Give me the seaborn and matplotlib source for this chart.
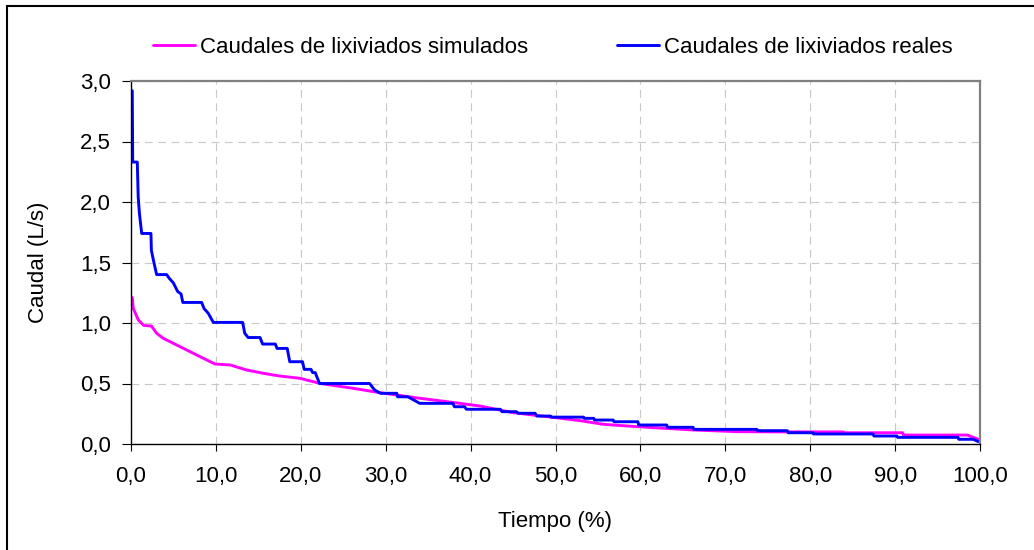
import matplotlib
matplotlib.use("Agg")
import matplotlib.pyplot as plt
from matplotlib.patches import Rectangle
from matplotlib.ticker import FuncFormatter
import seaborn as sns
import pandas as pd

# Curva de duración de caudales de lixiviados (tiempo de excedencia en %)
tiempo_sim = [0.15, 0.27, 0.86, 1.5, 2.4, 3.02, 3.81, 4.99, 6.56, 8.13, 9.9,
              11.7, 13.6, 15.6, 17.5, 19.9, 22.3, 26.2, 29.3, 31.3, 34.0,
              37.2, 41.1, 45.0, 49.0, 52.9, 55.6, 58.4, 61.5, 66.2, 71.4,
              77.3, 83.9, 84.0, 90.9, 91.0, 98.5, 99.8]
caudal_sim = [1.21, 1.12, 1.025, 0.98, 0.975, 0.915, 0.873, 0.832, 0.777, 0.722, 0.661,
              0.653, 0.612, 0.584, 0.562, 0.543, 0.50, 0.46, 0.424, 0.405, 0.378,
              0.35, 0.314, 0.259, 0.226, 0.193, 0.163, 0.149, 0.135, 0.116, 0.102,
              0.10, 0.10, 0.093, 0.093, 0.074, 0.074, 0.039]

tiempo_real = [0.15, 0.2, 0.74, 0.85, 1.0, 1.26, 2.35, 2.4, 2.7, 3.02, 4.2, 4.5,
               5.0, 5.5, 5.9, 6.1, 8.32, 8.6, 9.1, 9.7, 13.15, 13.4, 13.8, 15.2,
               15.5, 17.0, 17.2, 18.4, 18.7, 20.2, 20.4, 21.2, 21.4, 21.7, 22.2,
               28.1, 28.7, 29.4, 31.3, 31.4, 32.6, 33.3, 34.0, 37.9, 38.1, 39.3,
               39.5, 43.5, 43.7, 45.4, 45.6, 47.6, 47.8, 49.4, 49.5, 53.3, 53.4,
               54.5, 54.6, 56.8, 56.9, 59.7, 59.8, 63.1, 63.2, 66.2, 66.3, 73.7,
               73.8, 77.3, 77.4, 80.3, 80.4, 87.4, 87.5, 90.2, 90.3, 97.4, 97.5,
               99.2, 99.8]
caudal_real = [2.92, 2.33, 2.33, 2.04, 1.9, 1.74, 1.74, 1.60, 1.50, 1.40, 1.40, 1.37,
               1.33, 1.26, 1.24, 1.17, 1.17, 1.12, 1.08, 1.005, 1.005, 0.915, 0.88, 0.88,
               0.826, 0.826, 0.79, 0.79, 0.68, 0.68, 0.617, 0.617, 0.59, 0.59, 0.50,
               0.50, 0.446, 0.419, 0.419, 0.39, 0.39, 0.364, 0.336, 0.336, 0.308, 0.308,
               0.287, 0.287, 0.267, 0.267, 0.254, 0.254, 0.231, 0.231, 0.222, 0.222, 0.212,
               0.212, 0.198, 0.198, 0.184, 0.184, 0.157, 0.157, 0.138, 0.138, 0.121, 0.121,
               0.11, 0.11, 0.093, 0.093, 0.083, 0.083, 0.066, 0.066, 0.055, 0.055, 0.039,
               0.039, 0.02]

etiqueta_sim = "Caudales de lixiviados simulados"
etiqueta_real = "Caudales de lixiviados reales"
x_ticks = [0, 10, 20, 30, 40, 50, 60, 70, 80, 90, 100]
y_ticks = [0.0, 0.5, 1.0, 1.5, 2.0, 2.5, 3.0]

sns.set_style("white")
plt.rcParams["font.family"] = ["Liberation Sans", "DejaVu Sans"]
plt.rcParams.update({"text.color": "black", "axes.labelcolor": "black",
                     "xtick.color": "black", "ytick.color": "black"})
FS = 16

fig = plt.figure(figsize=(10.34, 5.5), dpi=100)
ax = fig.add_axes([131 / 1034, 1 - 444 / 550, 849 / 1034, 363 / 550])

df_sim = pd.DataFrame({"t": tiempo_sim, "q": caudal_sim})
df_real = pd.DataFrame({"t": tiempo_real, "q": caudal_real})
sns.lineplot(data=df_sim, x="t", y="q", color="#FF00FF", linewidth=2.1,
             sort=False, estimator=None, label=etiqueta_sim, ax=ax)
sns.lineplot(data=df_real, x="t", y="q", color="#0000FF", linewidth=2.1,
             sort=False, estimator=None, label=etiqueta_real, ax=ax)

ax.set_xlim(0, 100)
ax.set_ylim(0, 3.0)
ax.set_xticks(x_ticks)
ax.set_yticks(y_ticks)
coma = FuncFormatter(lambda v, p: f"{v:.1f}".replace(".", ","))
ax.xaxis.set_major_formatter(coma)
ax.yaxis.set_major_formatter(coma)

ax.grid(True, color="#C8C8C8", linestyle=(0, (7, 5)), linewidth=0.8)
ax.set_axisbelow(True)

for s in ("left", "bottom"):
    ax.spines[s].set_color("black")
    ax.spines[s].set_linewidth(1.0)
for s in ("top", "right"):
    ax.spines[s].set_color("#808080")
    ax.spines[s].set_linewidth(1.6)

ax.tick_params(axis="y", direction="out", length=6.5, width=0.8, colors="black",
               pad=8, labelsize=FS, left=True)
ax.tick_params(axis="x", direction="out", length=5, width=0.8, colors="black",
               pad=11, labelsize=FS, bottom=True)

ax.set_xlabel("Tiempo (%)", fontsize=FS, va="center", color="black")
ax.xaxis.set_label_coords(0.5, -(522 - 444) / 363)
ax.set_ylabel("Caudal (L/s)", fontsize=FS, va="center", color="black")
ax.yaxis.set_label_coords((38 - 131) / 849, 0.5)

leg = ax.legend(loc="center left", bbox_to_anchor=(153 / 1034, 1 - 47.7 / 550),
                bbox_transform=fig.transFigure, ncol=2, frameon=False, fontsize=FS,
                handlelength=1.9, handletextpad=0.22, columnspacing=4.0,
                borderpad=0, borderaxespad=0)
for txt in leg.get_texts():
    txt.set_color("black")

# marco exterior de la figura
fig.patches.append(Rectangle((7 / 1034, -0.5), 2.0, 1.5 - 6 / 550,
                             transform=fig.transFigure, fill=False,
                             edgecolor="black", linewidth=1.5))

fig.savefig("out.png", dpi=100)
